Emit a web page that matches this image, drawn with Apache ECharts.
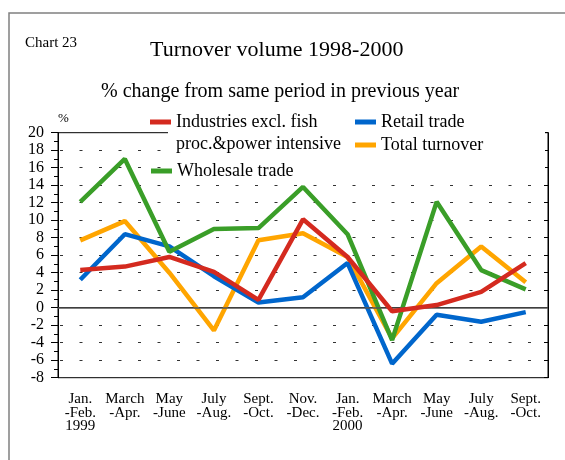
<!DOCTYPE html>
<html>
<head>
<meta charset="utf-8">
<script src="https://cdn.jsdelivr.net/npm/echarts@6/dist/echarts.min.js"></script>
<style>html,body{margin:0;padding:0;background:#fff}#c{width:565px;height:460px}</style>
</head>
<body>
<div id="c"></div>
<script>
var categories = ['Jan.\n-Feb.\n1999','March\n-Apr.','May\n-June','July\n-Aug.','Sept.\n-Oct.','Nov.\n-Dec.','Jan.\n-Feb.\n2000','March\n-Apr.','May\n-June','July\n-Aug.','Sept.\n-Oct.'];
var industries = [4.3, 4.7, 5.8, 4.1, 0.9, 10.1, 5.8, -0.4, 0.3, 1.8, 5.1];
var retail = [3.2, 8.4, 7.0, 3.6, 0.6, 1.2, 5.1, -6.4, -0.8, -1.6, -0.5];
var total = [7.7, 9.9, 4.0, -2.6, 7.7, 8.5, 5.8, -3.5, 2.8, 7.0, 2.9];
var wholesale = [12.1, 17.0, 6.4, 9.0, 9.1, 13.8, 8.4, -3.7, 12.1, 4.3, 2.1];
var yMin = -8, yMax = 20, yStep = 2;

var FONT = "'Liberation Serif','Times New Roman',serif";
var RED = '#d42a1f', BLUE = '#0066cc', ORANGE = '#ffa500', GREEN = '#3a9e28';
var N_IND = 'Industries excl. fish proc.&power intensive';

function lg(name, left, top, fmt) {
  return {
    data: [name], left: left, top: top, padding: 0, orient: 'horizontal',
    icon: 'rect', itemWidth: 21, itemHeight: 5, selectedMode: false,
    formatter: fmt || '{name}',
    textStyle: { fontFamily: FONT, fontSize: 18, color: '#000' }
  };
}
function line(name, data, color, z) {
  return { name: name, type: 'line', data: data, symbol: 'none', z: z,
    lineStyle: { color: color, width: 4.5 }, itemStyle: { color: color }, animation: false };
}

var chart = echarts.init(document.getElementById('c'));
chart.setOption({
  animation: false,
  title: [
    { text: 'Chart 23', left: 25, top: 36, padding: 0, textStyle: { fontFamily: FONT, fontSize: 15, fontWeight: 'normal', color: '#000' } },
    { text: 'Turnover volume 1998-2000', left: 150, top: 39, padding: 0, textStyle: { fontFamily: FONT, fontSize: 22, fontWeight: 'normal', color: '#000' } },
    { text: '% change from same period in previous year', left: 101, top: 82, padding: 0, textStyle: { fontFamily: FONT, fontSize: 20, fontWeight: 'normal', color: '#000' } },
    { text: '%', left: 58, top: 112, padding: 0, textStyle: { fontFamily: FONT, fontSize: 13, fontWeight: 'normal', color: '#000' } }
  ],
  graphic: [
    { type: 'rect', shape: { x: 9, y: 13, width: 700, height: 700 }, style: { fill: 'none', stroke: '#808080', lineWidth: 1.5 }, silent: true },
    { type: 'rect', shape: { x: 168, y: 114, width: 377, height: 66 }, style: { fill: '#fff' }, z: 3, silent: true },
    { type: 'text', left: 176, top: 135, z: 5, style: { text: 'proc.&power intensive', fontFamily: FONT, fontSize: 18, fill: '#000' }, silent: true }
  ],
  legend: [
    lg(N_IND, 150, 113, function () { return 'Industries excl. fish'; }),
    lg('Retail trade', 355, 113),
    lg('Total turnover', 355, 136),
    lg('Wholesale trade', 151, 162)
  ],
  grid: { left: 58, top: 132.7, right: 17, bottom: 82.3, show: true, borderColor: '#000', borderWidth: 1, backgroundColor: 'transparent' },
  xAxis: {
    type: 'category', data: categories, boundaryGap: true,
    axisLine: { lineStyle: { color: '#000', width: 1 } },
    axisTick: { alignWithLabel: true, length: 7, lineStyle: { color: '#000' } },
    axisLabel: { fontFamily: FONT, fontSize: 15, color: '#000', lineHeight: 13.5, margin: 15, interval: 0 },
    splitLine: { show: false }
  },
  yAxis: [
    {
      type: 'value', min: yMin, max: yMax, interval: yStep, position: 'left',
      axisLine: { show: true, lineStyle: { color: '#000', width: 1 } },
      axisTick: { show: true, length: 7, lineStyle: { color: '#000' } },
      minorTick: { show: true, splitNumber: 2, length: 4, lineStyle: { color: '#000' } },
      axisLabel: { fontFamily: FONT, fontSize: 16, color: '#000', margin: 14 },
      splitLine: { show: true, lineStyle: { color: '#333', width: 1, type: [3, 16.5], dashOffset: 17.5 } }
    },
    {
      type: 'value', min: yMin, max: yMax, interval: yStep, position: 'right',
      axisLine: { show: true, lineStyle: { color: '#000', width: 1 } },
      axisTick: { show: true, inside: true, length: 4, lineStyle: { color: '#000' } },
      axisLabel: { show: false },
      splitLine: { show: false }
    }
  ],
  series: [
    line('Total turnover', total, ORANGE, 2),
    line('Retail trade', retail, BLUE, 3),
    line('Wholesale trade', wholesale, GREEN, 4),
    line(N_IND, industries, RED, 5),
    { name: 'zero', type: 'line', data: [], z: 6, symbol: 'none',
      markLine: { silent: true, symbol: 'none', label: { show: false },
        lineStyle: { color: '#555', width: 1.5, type: 'solid' }, data: [{ yAxis: 0 }] } }
  ]
});
</script>
</body>
</html>
